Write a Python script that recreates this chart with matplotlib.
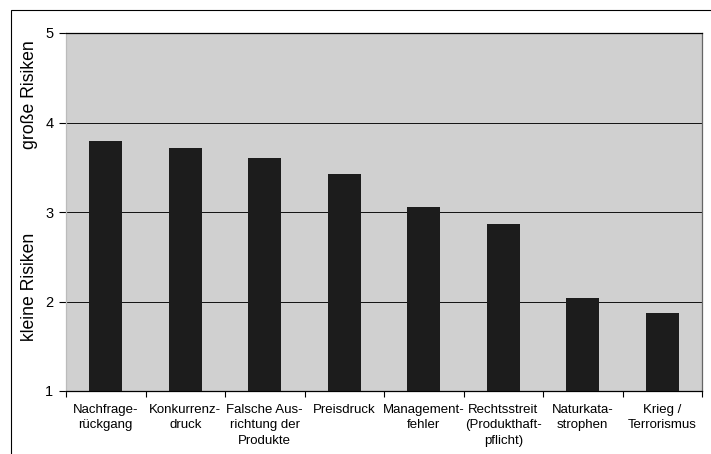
import numpy as np
import matplotlib.pyplot as plt
from matplotlib.patches import Rectangle

# Daten
kategorien = ['Nachfrage-\nrückgang', 'Konkurrenz-\ndruck', 'Falsche Aus-\nrichtung der\nProdukte',
              'Preisdruck', 'Management-\nfehler', 'Rechtsstreit\n(Produkthaft-\npflicht)',
              'Naturkata-\nstrophen', 'Krieg /\nTerrorismus']
werte = [3.79, 3.72, 3.60, 3.42, 3.06, 2.87, 2.04, 1.87]
y_ticks = [1, 2, 3, 4, 5]

plt.rcParams['font.family'] = ['Liberation Sans', 'DejaVu Sans']

fig = plt.figure(figsize=(7.11, 4.54), dpi=100)

# äußerer Rahmen (rechts und unten abgeschnitten)
fig.patches.append(Rectangle((11 / 711, -0.1), 1.2, (454 - 10) / 454 + 0.1,
                             transform=fig.transFigure, fill=False,
                             edgecolor='black', linewidth=0.8))

ax = fig.add_axes([66 / 711, 63 / 454, 636 / 711, 358 / 454])
ax.set_facecolor('#d0d0d0')

x = np.arange(len(kategorien))
ax.bar(x, np.array(werte) - 1.0, bottom=1, width=0.42, color='#1c1c1c', zorder=3)

ax.set_ylim(1, 5)
ax.set_xlim(-0.5, len(kategorien) - 0.5)
ax.set_yticks(y_ticks)
ax.tick_params(axis='y', direction='out', length=5, width=0.8, labelsize=10.5, pad=4)
for y in y_ticks[1:-1]:
    ax.axhline(y, color='#111111', linewidth=0.7, zorder=1)

# x-Ticks zwischen den Kategorien
ax.set_xticks(np.arange(-0.5, len(kategorien)), minor=False)
ax.set_xticklabels([])
ax.tick_params(axis='x', direction='out', length=4, width=0.8)
for xi, lab in zip(x, kategorien):
    ax.text(xi, -0.035, lab, transform=ax.get_xaxis_transform(), ha='center', va='top',
            fontsize=9.5, linespacing=1.4)

ax.spines['top'].set_color('black')
ax.spines['right'].set_color('#666666')
ax.spines['left'].set_color('#bbbbbb')
ax.spines['bottom'].set_color('black')
for s in ax.spines.values():
    s.set_linewidth(0.9)

fig.text(30 / 711, 1 - 287 / 454, 'kleine Risiken', rotation=90, ha='center', va='center', fontsize=12.7)
fig.text(30 / 711, 1 - 95 / 454, 'große Risiken', rotation=90, ha='center', va='center', fontsize=12.7)

fig.savefig('out.png', dpi=100)
